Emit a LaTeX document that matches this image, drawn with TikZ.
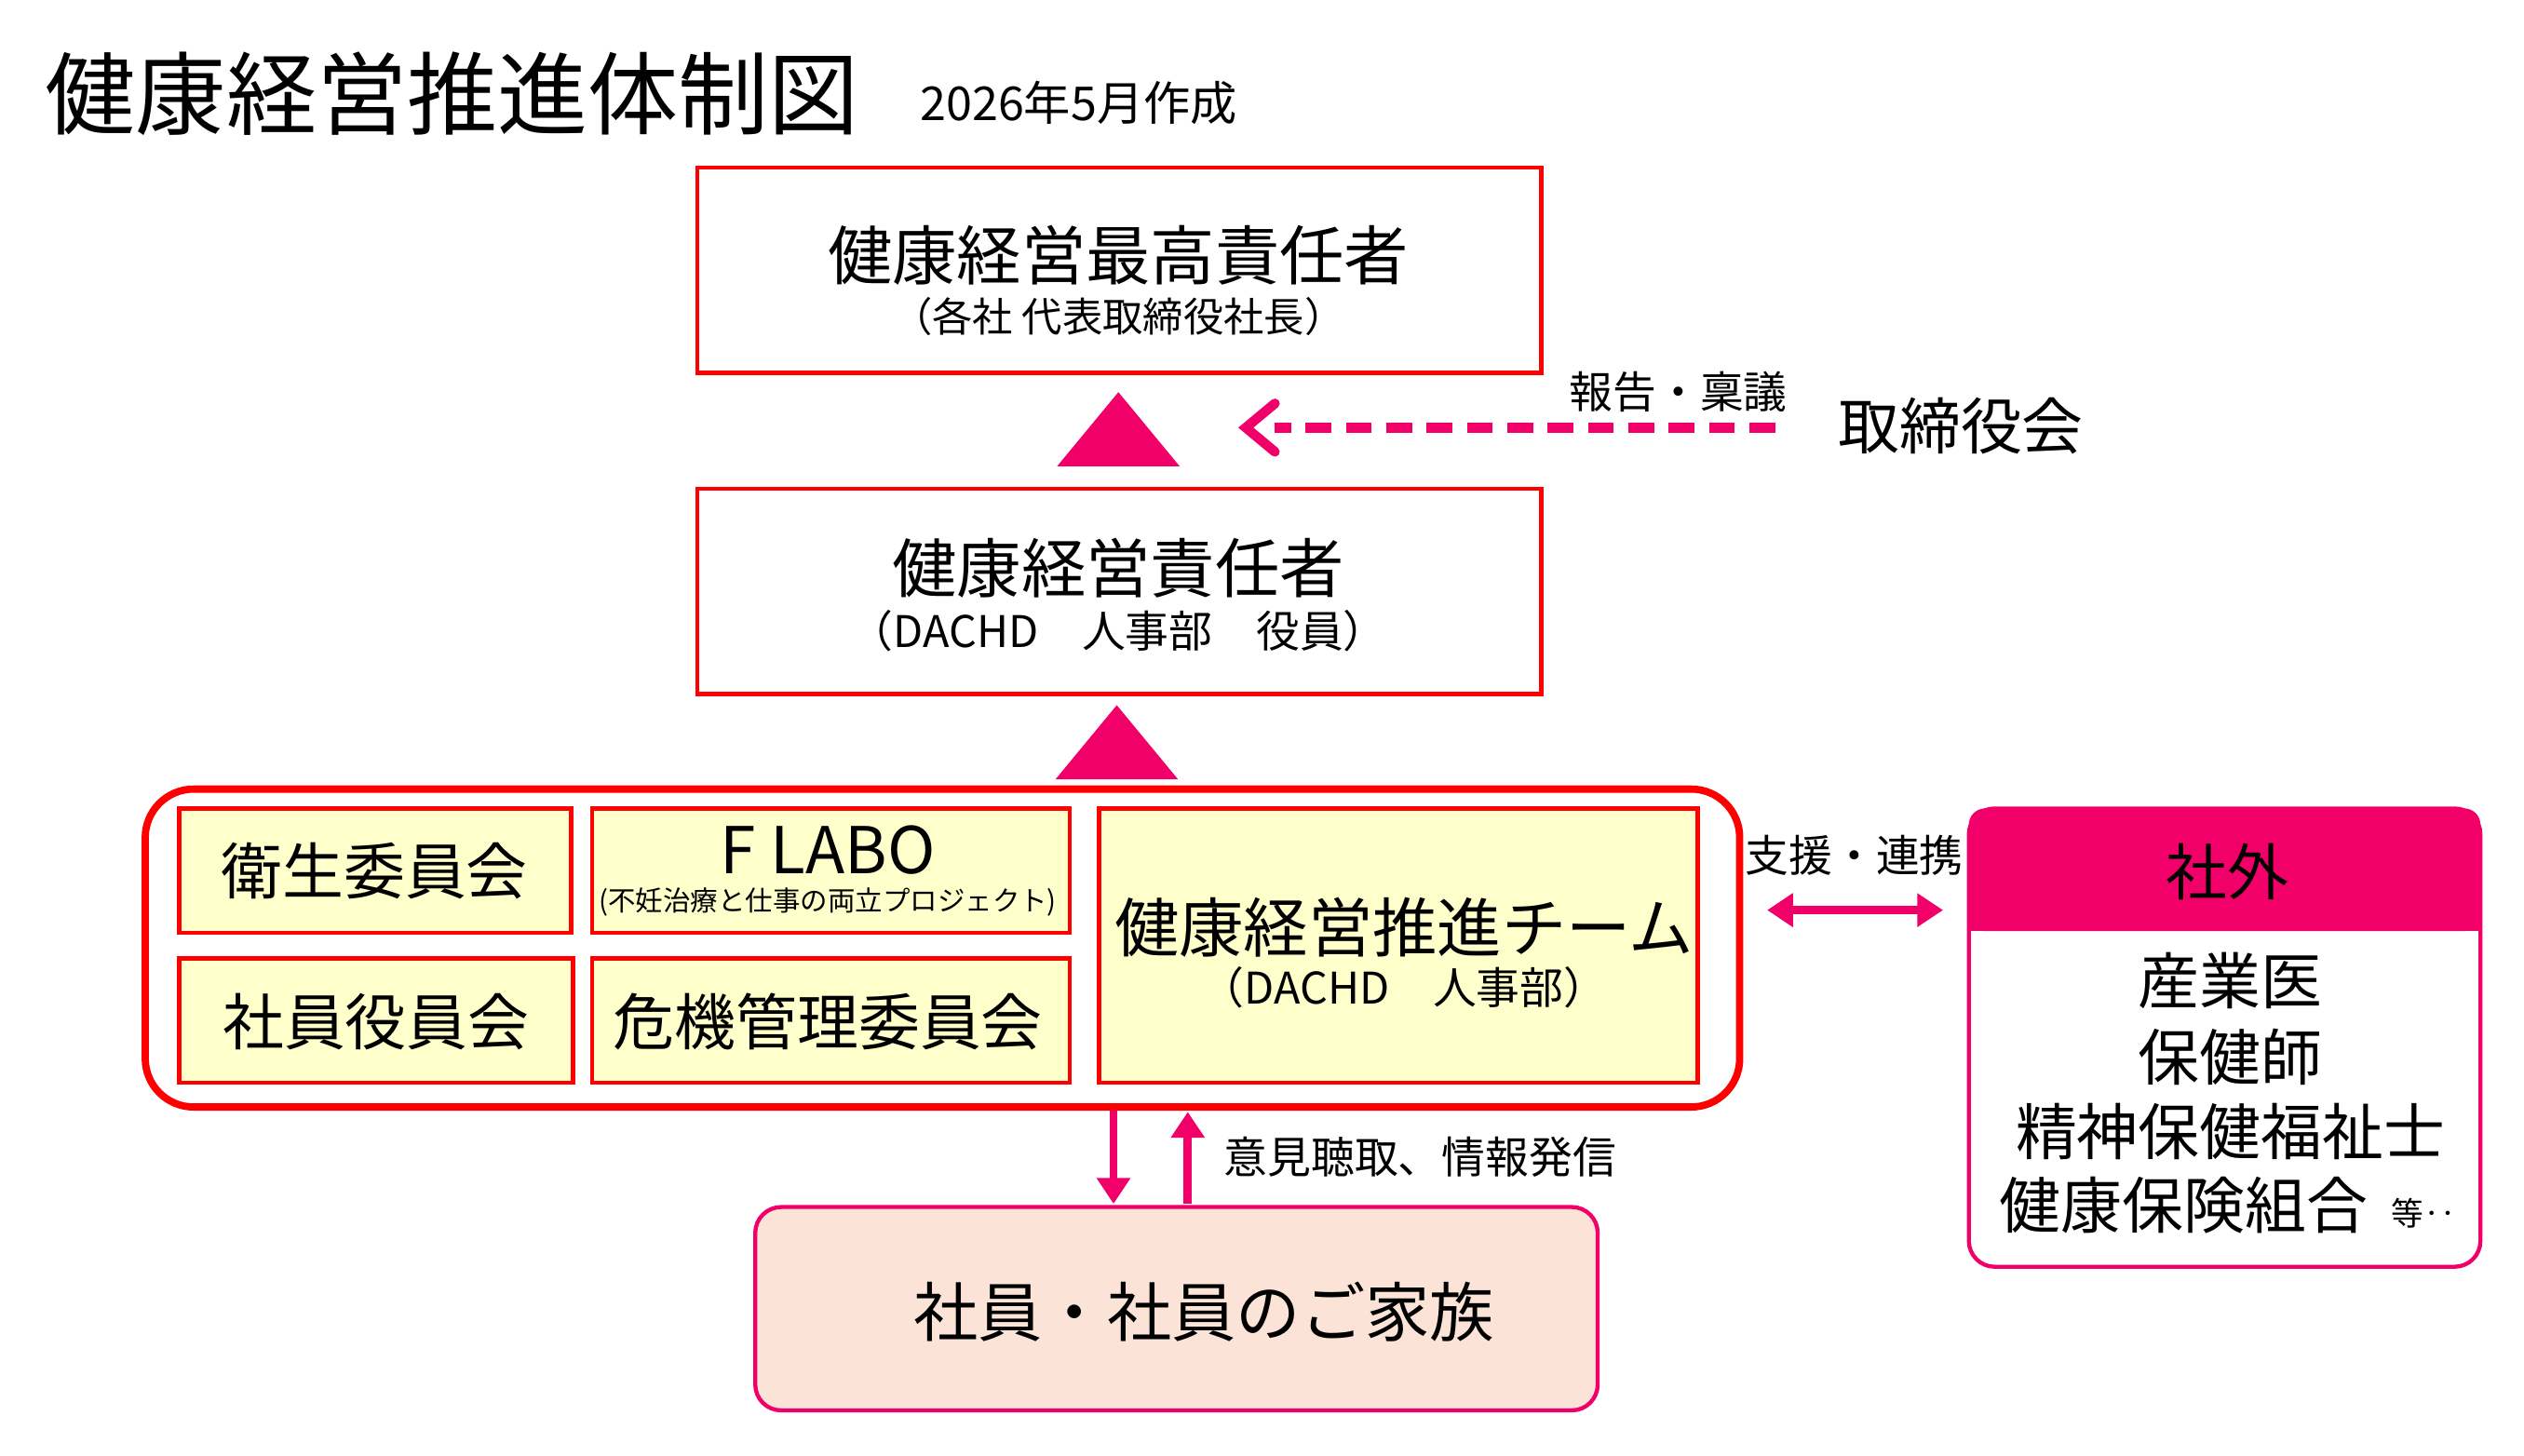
\documentclass[tikz,border=0pt]{standalone}
\usepackage{fontspec}
\setmainfont{Noto Sans CJK JP}
\usetikzlibrary{arrows.meta}
\definecolor{pk}{HTML}{F00068}
\definecolor{rd}{HTML}{FF0000}
\definecolor{yl}{HTML}{FFFFCC}
\definecolor{pc}{HTML}{FBE3D8}
\newcommand{\fs}[1]{\fontsize{#1pt}{#1pt}\selectfont}
\begin{document}
\begin{tikzpicture}[x=1pt,y=-1pt,
  rbox/.style={draw=rd,line width=2.5pt},
  ybox/.style={draw=rd,line width=2.5pt,fill=yl},
  tri/.style={fill=pk,draw=none},
  parr/.style={draw=pk,line width=5pt,-{Triangle[length=16pt,width=20pt]}},
  lab/.style={inner sep=0pt,anchor=center}]
\useasboundingbox (0,0) rectangle (1564,902);
\node[lab,anchor=west] (title) at (28,58) {\fs{56}健康経営推進体制図};
\node[lab,anchor=west] (date) at (570,64) {\fs{29}2026年5月作成};
% box 1
\draw[rbox] (432,104) rectangle (955,231);
\node[lab] (b1) at (693,158) {\fs{40}健康経営最高責任者};
\node[lab] (b1s) at (693,196) {\fs{25}（各社 代表取締役社長）};
\fill[tri] (693,243) -- (731,289) -- (655,289) -- cycle;
\coordinate (ds) at (1100,265);
\coordinate (de) at (766,265);
\draw[pk,line width=6pt,dash pattern=on 16pt off 9pt] (ds) -- (790,265);
\draw[pk,line width=6pt,line cap=round] (790,250) -- (772,265) -- (790,280);
\node[lab] (hk) at (1040,243) {\fs{27}報告・稟議};
\node[lab] (tr) at (1215,264) {\fs{38}取締役会};
% box 2
\draw[rbox] (432,303) rectangle (955,430);
\node[lab] (b2) at (693,352) {\fs{40}健康経営責任者};
\node[lab] (b2s) at (693,391) {\fs{27}（DACHD\quad 人事部\quad 役員）};
\fill[tri] (692,437) -- (730,483) -- (654,483) -- cycle;
% big group
\draw[draw=rd,line width=4.5pt,rounded corners=30pt] (90,489) rectangle (1078,686);
\draw[ybox] (111,501) rectangle (354,578);
\node[lab] (e1) at (232,540) {\fs{38}衛生委員会};
\draw[ybox] (367,501) rectangle (663,578);
\node[lab] (fl) at (513,527) {\fs{40}F LABO};
\node[lab] (fls) at (513,559) {\fs{17}(不妊治療と仕事の両立プロジェクト)};
\draw[ybox] (111,594) rectangle (355,671);
\node[lab] (e2) at (233,633) {\fs{38}社員役員会};
\draw[ybox] (367,594) rectangle (663,671);
\node[lab] (e3) at (513,633) {\fs{38}危機管理委員会};
\draw[ybox] (681,501) rectangle (1052,671);
\node[lab] (tm) at (870,575) {\fs{40}健康経営推進チーム};
\node[lab] (tms) at (870,612) {\fs{27}（DACHD\quad 人事部）};
% vertical arrows
\coordinate (d1) at (690,688); \coordinate (d2) at (690,746);
\coordinate (u1) at (736,746); \coordinate (u2) at (736,689);
\draw[parr] (d1) -- (d2);
\draw[parr] (u1) -- (u2);
\node[lab] (ik) at (880,717) {\fs{27}意見聴取、情報発信};
% bottom
\draw[draw=pk,line width=2.5pt,fill=pc,rounded corners=16pt] (468,748) rectangle (990,874);
\node[lab] (fam) at (746,813) {\fs{40}社員・社員のご家族};
% double arrow
\coordinate (la) at (1095,564); \coordinate (ra) at (1204,564);
\draw[draw=pk,line width=5pt,{Triangle[length=16pt,width=20pt]}-{Triangle[length=16pt,width=20pt]}] (la) -- (ra);
\node[lab] (sr) at (1149,530) {\fs{27}支援・連携};
% external
\draw[draw=pk,line width=2.5pt,rounded corners=16pt] (1220,501) rectangle (1537,785);
\fill[pk,rounded corners=10pt] (1220,501) rectangle (1537,577);
\fill[pk] (1220,550) rectangle (1537,577);
\node[lab] (sg) at (1380,540) {\fs{38}社外};
\node[lab] (x1) at (1382,608) {\fs{38}産業医};
\node[lab] (x2) at (1382,655) {\fs{38}保健師};
\node[lab] (x3) at (1382,701) {\fs{38}精神保健福祉士};
\node[lab] (x4) at (1353,747) {\fs{38}健康保険組合};
\node[lab] (x5) at (1502,752) {\fs{20}等‥};
\end{tikzpicture}
\end{document}
